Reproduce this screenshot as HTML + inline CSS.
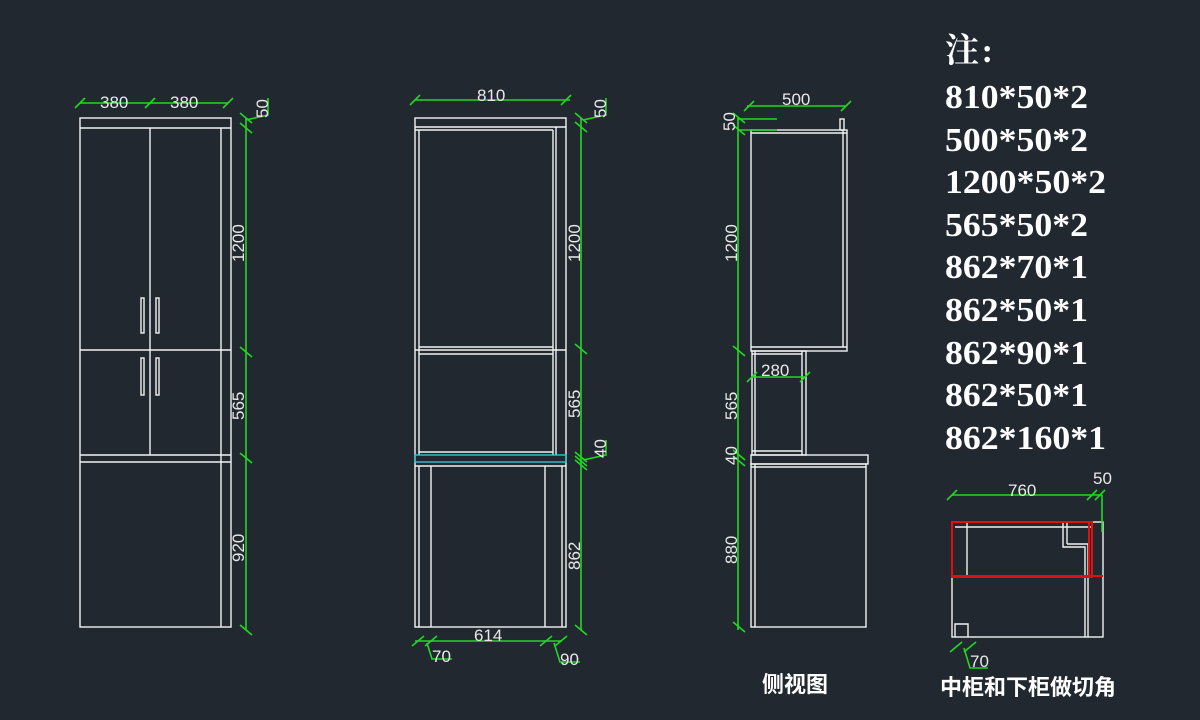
<!DOCTYPE html>
<html><head><meta charset="utf-8"><style>
html,body{margin:0;padding:0;background:#212830;}
svg{display:block}
.w{stroke:#f2f2f2;stroke-width:1.4;fill:none}
.g{stroke:#22d822;stroke-width:1.6;fill:none}
.t{fill:#e8e8e8;font-family:"Liberation Sans",sans-serif;font-size:17px}
.n{fill:#fff;font-family:"Liberation Serif","Noto Serif CJK SC",serif;font-size:34px;font-weight:bold}
</style></head><body>
<svg width="1200" height="720" viewBox="0 0 1200 720">
<rect width="1200" height="720" fill="#212830"/>
<!-- LEFT CABINET -->
<g class="w">
<rect x="80" y="118" width="151" height="509"/>
<line x1="80" y1="128" x2="231" y2="128"/>
<line x1="221" y1="128" x2="221" y2="627"/>
<line x1="150" y1="128" x2="150" y2="455"/>
<line x1="80" y1="350" x2="231" y2="350"/>
<line x1="80" y1="455" x2="231" y2="455"/>
<line x1="80" y1="462" x2="231" y2="462"/>
<rect x="141" y="298" width="3" height="35"/><rect x="156" y="298" width="3" height="35"/>
<rect x="141" y="358" width="3" height="37"/><rect x="156" y="358" width="3" height="37"/>
</g>
<g class="g">
<line x1="80" y1="103" x2="228" y2="103"/>
<line x1="75" y1="108" x2="85" y2="98"/><line x1="145" y1="108" x2="155" y2="98"/><line x1="223" y1="108" x2="233" y2="98"/>
<line x1="246" y1="118" x2="246" y2="630"/>
<line x1="240" y1="113" x2="252" y2="123"/><line x1="240" y1="123" x2="252" y2="133"/>
<line x1="240" y1="347" x2="252" y2="357"/><line x1="240" y1="453" x2="252" y2="463"/><line x1="240" y1="625" x2="252" y2="635"/>
<polyline points="246,120 268,115 268,98"/>
</g>
<text class="t" x="100" y="108">380</text><text class="t" x="170" y="108">380</text>
<text class="t" transform="translate(268,118) rotate(-90)">50</text>
<text class="t" transform="translate(244,262) rotate(-90)">1200</text>
<text class="t" transform="translate(244,420) rotate(-90)">565</text>
<text class="t" transform="translate(244,562) rotate(-90)">920</text>

<!-- MIDDLE -->
<g class="w">
<rect x="415" y="118" width="151" height="509"/>
<line x1="415" y1="127" x2="566" y2="127"/>
<line x1="415" y1="130" x2="553" y2="130"/>
<line x1="419" y1="130" x2="419" y2="455"/>
<line x1="553" y1="130" x2="553" y2="455"/>
<line x1="556" y1="127" x2="556" y2="455"/>
<line x1="419" y1="347" x2="553" y2="347"/>
<line x1="415" y1="350" x2="566" y2="350"/>
<line x1="419" y1="354" x2="553" y2="354"/>
<line x1="419" y1="452" x2="553" y2="452"/>
<line x1="415" y1="466" x2="566" y2="466"/>
<line x1="419" y1="466" x2="419" y2="627"/>
<line x1="431" y1="466" x2="431" y2="627"/>
<line x1="545" y1="466" x2="545" y2="627"/>
<line x1="562" y1="466" x2="562" y2="627"/>
</g>
<rect x="415" y="455" width="151" height="7" fill="none" stroke="#2ec4d0" stroke-width="1.4"/>
<g class="g">
<line x1="415" y1="100" x2="570" y2="100"/>
<line x1="410" y1="105" x2="420" y2="95"/><line x1="561" y1="105" x2="571" y2="95"/>
<line x1="581" y1="118" x2="581" y2="630"/>
<line x1="575" y1="113" x2="587" y2="123"/><line x1="575" y1="122" x2="587" y2="132"/>
<line x1="575" y1="344" x2="587" y2="354"/>
<line x1="575" y1="452" x2="587" y2="462"/><line x1="575" y1="456" x2="587" y2="466"/><line x1="575" y1="460" x2="587" y2="470"/>
<line x1="575" y1="625" x2="587" y2="635"/>
<polyline points="583,120 606,115 606,98"/>
<polyline points="583,460 606,455 606,440"/>
<line x1="415" y1="641" x2="562" y2="641"/>
<line x1="412" y1="646" x2="424" y2="636"/><line x1="425" y1="646" x2="437" y2="636"/>
<line x1="540" y1="646" x2="552" y2="636"/><line x1="555" y1="646" x2="567" y2="636"/>
<polyline points="427,643 432,659 452,659"/>
<polyline points="554,643 560,662 580,662"/>
</g>
<text class="t" x="477" y="101">810</text>
<text class="t" x="474" y="641">614</text>
<text class="t" x="432" y="662">70</text>
<text class="t" x="560" y="665">90</text>
<text class="t" transform="translate(606,118) rotate(-90)">50</text>
<text class="t" transform="translate(606,458) rotate(-90)">40</text>
<text class="t" transform="translate(580,262) rotate(-90)">1200</text>
<text class="t" transform="translate(580,418) rotate(-90)">565</text>
<text class="t" transform="translate(580,570) rotate(-90)">862</text>

<!-- SIDE VIEW -->
<g class="w">
<rect x="751" y="130" width="96" height="221"/>
<line x1="751" y1="133" x2="847" y2="133"/>
<line x1="843" y1="130" x2="843" y2="347"/>
<line x1="751" y1="347" x2="847" y2="347"/>
<rect x="840" y="119" width="4" height="11"/>
<rect x="752" y="351" width="54" height="104"/>
<line x1="755" y1="351" x2="755" y2="455"/>
<line x1="752" y1="354" x2="802" y2="354"/>
<line x1="802" y1="351" x2="802" y2="455"/>
<line x1="752" y1="451" x2="802" y2="451"/>
<rect x="751" y="455" width="117" height="9"/>
<rect x="751" y="464" width="115" height="163"/>
<line x1="755" y1="464" x2="755" y2="627"/>
<line x1="751" y1="467" x2="866" y2="467"/>
</g>
<g class="g">
<line x1="738" y1="118" x2="738" y2="630"/>
<line x1="733" y1="113" x2="745" y2="123"/><line x1="733" y1="125" x2="745" y2="135"/>
<line x1="733" y1="346" x2="745" y2="356"/>
<line x1="733" y1="450" x2="745" y2="460"/><line x1="733" y1="456" x2="745" y2="466"/>
<line x1="733" y1="622" x2="745" y2="632"/>
<line x1="738" y1="119" x2="777" y2="119"/><line x1="738" y1="130" x2="777" y2="130"/>
<line x1="747" y1="106" x2="846" y2="106"/>
<line x1="744" y1="111" x2="754" y2="101"/><line x1="841" y1="111" x2="851" y2="101"/>
<line x1="752" y1="377" x2="805" y2="377"/>
<line x1="747" y1="382" x2="757" y2="372"/><line x1="800" y1="382" x2="810" y2="372"/>
</g>
<text class="t" x="782" y="105">500</text>
<text class="t" x="761" y="376">280</text>
<text class="t" transform="translate(735,131) rotate(-90)">50</text>
<text class="t" transform="translate(737,262) rotate(-90)">1200</text>
<text class="t" transform="translate(737,420) rotate(-90)">565</text>
<text class="t" transform="translate(737,465) rotate(-90)">40</text>
<text class="t" transform="translate(737,564) rotate(-90)">880</text>
<text x="762" y="692" fill="#fff" font-family="'Noto Sans CJK SC',sans-serif" font-size="22" font-weight="bold">侧视图</text>

<!-- NOTES -->
<text class="n" x="945" y="62" textLength="48">注:</text>
<text class="n" x="945" y="108" textLength="143" lengthAdjust="spacingAndGlyphs">810*50*2</text>
<text class="n" x="945" y="151" textLength="143" lengthAdjust="spacingAndGlyphs">500*50*2</text>
<text class="n" x="945" y="193" textLength="161" lengthAdjust="spacingAndGlyphs">1200*50*2</text>
<text class="n" x="945" y="236" textLength="143" lengthAdjust="spacingAndGlyphs">565*50*2</text>
<text class="n" x="945" y="278" textLength="143" lengthAdjust="spacingAndGlyphs">862*70*1</text>
<text class="n" x="945" y="321" textLength="143" lengthAdjust="spacingAndGlyphs">862*50*1</text>
<text class="n" x="945" y="364" textLength="143" lengthAdjust="spacingAndGlyphs">862*90*1</text>
<text class="n" x="945" y="406" textLength="143" lengthAdjust="spacingAndGlyphs">862*50*1</text>
<text class="n" x="945" y="449" textLength="161" lengthAdjust="spacingAndGlyphs">862*160*1</text>

<!-- CORNER DETAIL -->
<g class="w">
<rect x="952" y="522" width="151" height="115"/>
<line x1="955" y1="527" x2="1092" y2="527"/>
<line x1="967" y1="522" x2="967" y2="578"/>
<polyline points="1063,522 1063,547 1085,547 1085,637"/>
<line x1="1067" y1="522" x2="1067" y2="544"/><line x1="1067" y1="544" x2="1088" y2="544"/>
<line x1="1088" y1="544" x2="1088" y2="637"/>
<polyline points="955,637 955,624 968,624 968,637"/>
</g>
<g fill="none" stroke="#e01010" stroke-width="2">
<rect x="952" y="522" width="140" height="55"/>
<line x1="952" y1="576" x2="1103" y2="576"/>
<line x1="1089" y1="522" x2="1089" y2="577"/>
</g>
<g class="g">
<line x1="952" y1="495" x2="1102" y2="495"/>
<line x1="947" y1="500" x2="957" y2="490"/><line x1="1087" y1="500" x2="1097" y2="490"/><line x1="1095" y1="500" x2="1105" y2="490"/>
<line x1="1102" y1="495" x2="1102" y2="532"/>
<line x1="950" y1="652" x2="962" y2="642"/><line x1="964" y1="652" x2="976" y2="642"/>
<polyline points="964,648 970,668 988,668"/>
</g>
<text class="t" x="1008" y="496">760</text>
<text class="t" x="1093" y="484">50</text>
<text class="t" x="970" y="667">70</text>
<text x="940" y="695" fill="#fff" font-family="'Noto Sans CJK SC',sans-serif" font-size="22" font-weight="bold">中柜和下柜做切角</text>
</svg>
</body></html>
